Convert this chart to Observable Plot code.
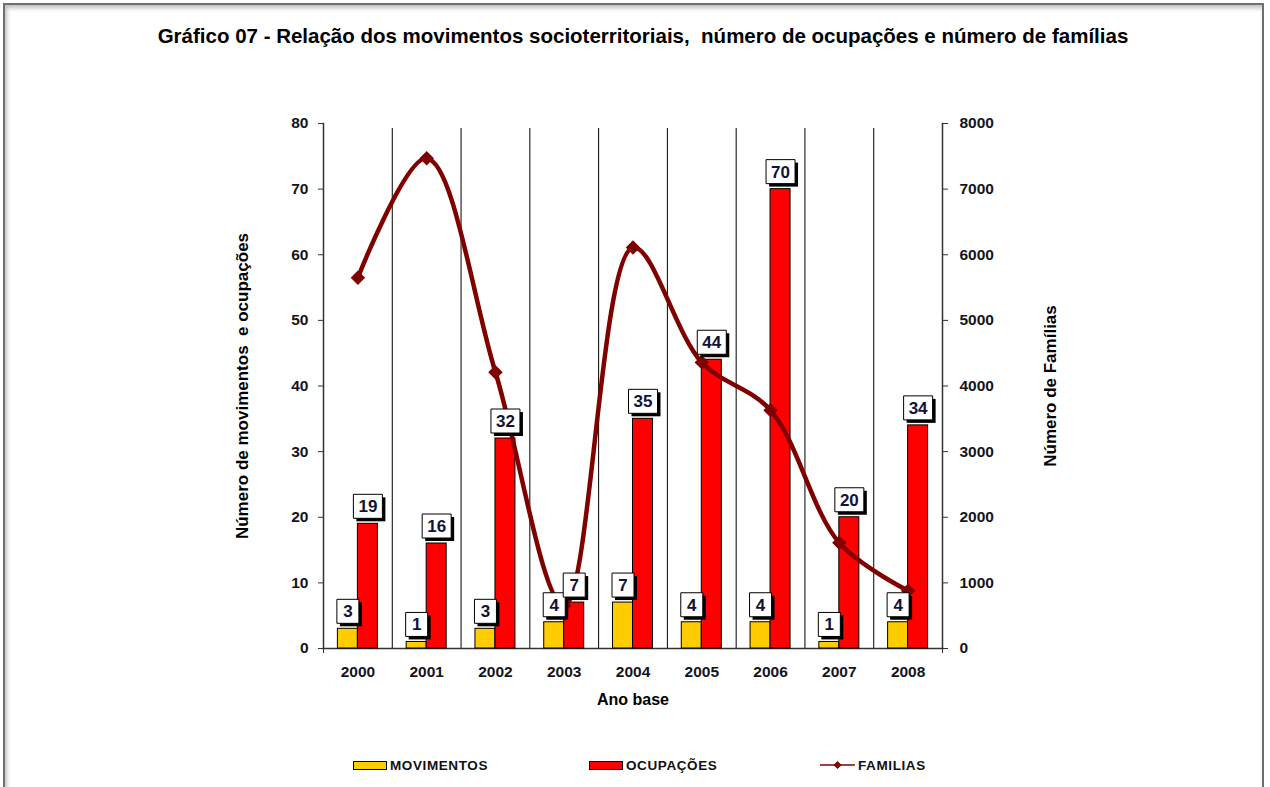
<!DOCTYPE html>
<html>
<head>
<meta charset="utf-8">
<script src="https://cdn.jsdelivr.net/npm/d3@7"></script>
<script src="https://cdn.jsdelivr.net/npm/@observablehq/plot@0.6"></script>
<style>
  html, body { margin: 0; padding: 0; background: #fff; }
  body { width: 1270px; height: 787px; overflow: hidden; position: relative; font-family: "Liberation Sans", Arial, sans-serif; }
  #frame { position: absolute; left: 3px; top: 3px; width: 1261px; height: 820px; border: 2px solid #6f6f6f; box-shadow: inset 2px 3px 4px rgba(0,0,0,0.25); box-sizing: border-box; pointer-events: none; }
  #title { position: absolute; left: 0; width: 1286px; top: 24px; text-align: center; font-weight: bold; font-size: 20.5px; color: #000; }
  #chart { position: absolute; left: 0; top: 0; }
  #legend { position: absolute; top: 757px; left: 0; width: 1270px; height: 20px; font-weight: bold; font-size: 13.5px; color: #111; letter-spacing: 0.6px; }
  .item { position: absolute; top: 0; display: flex; align-items: center; height: 16px; }
  .sw { width: 32px; height: 7px; border: 1px solid #000; margin-right: 3px; }
</style>
</head>
<body>
<div id="chart"></div>
<div id="title">Gráfico 07 - Relação dos movimentos socioterritoriais,&nbsp; número de ocupações e número de famílias</div>
<div id="legend">
  <div class="item" style="left:353px"><div class="sw" style="background:#FFCC00"></div>MOVIMENTOS</div>
  <div class="item" style="left:589px"><div class="sw" style="background:#FF0000"></div>OCUPAÇÕES</div>
  <div class="item" style="left:820px"><svg width="36" height="12" style="margin-right:2px"><line x1="0" y1="6" x2="35" y2="6" stroke="#800000" stroke-width="1.5"/><path d="M17.5,2 L21.5,6 L17.5,10 L13.5,6 Z" fill="#800000"/></svg>FAMILIAS</div>
</div>
<div id="frame"></div>
<script>
const years = ["2000","2001","2002","2003","2004","2005","2006","2007","2008"];
const movimentos = [3, 1, 3, 4, 7, 4, 4, 1, 4];
const ocupacoes = [19, 16, 32, 7, 35, 44, 70, 20, 34];
const familias = [5650, 7470, 4210, 650, 6110, 4360, 3630, 1610, 880];
const leftTicks = [0, 10, 20, 30, 40, 50, 60, 70, 80];

const W = 1270, H = 787, ML = 323, MR = 328, MT = 123, MB = 139;
const bw = (W - ML - MR) / years.length;
const barW = 20;
const FONT = "Liberation Sans, Arial, sans-serif";

const movData = years.map((y, i) => ({year: y, value: movimentos[i]}));
const ocuData = years.map((y, i) => ({year: y, value: ocupacoes[i]}));
const famData = years.map((y, i) => ({year: y, value: familias[i]}));

const box = (w, h) => ({draw(ctx) { ctx.rect(-w / 2, -h / 2, w, h); }});

function labelMarks(data, dxv) {
  const one = data.filter(d => String(d.value).length === 1);
  const two = data.filter(d => String(d.value).length > 1);
  const marks = [];
  for (const [set, w] of [[one, 22], [two, 29]]) {
    marks.push(Plot.dot(set, {x: "year", y: "value", dx: dxv + 3, dy: -17.5 + 3, symbol: box(w, 24), fill: "#000", stroke: "none"}));
    marks.push(Plot.dot(set, {x: "year", y: "value", dx: dxv, dy: -17.5, symbol: box(w, 24), fill: "#fff", stroke: "#000", strokeWidth: 1}));
  }
  marks.push(Plot.text(data, {x: "year", y: "value", dx: dxv, dy: -17, text: d => String(d.value), fontWeight: "bold", fontSize: 17, fill: "#121236", fontFamily: FONT}));
  return marks;
}

const chart = Plot.plot({
  width: W, height: H,
  marginLeft: ML, marginRight: MR, marginTop: MT, marginBottom: MB,
  style: {fontFamily: FONT, fontWeight: "bold", fontSize: "15.5px", color: "#141420", background: "transparent"},
  x: {type: "band", domain: years, padding: 0, round: false, axis: null},
  y: {domain: [0, 80], axis: null},
  marks: [
    Plot.ruleX(years.slice(1), {x: d => d, dx: -bw / 2, y1: 0, y2: 80, insetBottom: -5, stroke: "#000", strokeWidth: 1}),
    Plot.ruleX([years[0]], {x: d => d, dx: -bw / 2, y1: 0, y2: 0, insetBottom: -5, stroke: "#333"}),
    Plot.ruleX([years[years.length - 1]], {x: d => d, dx: bw / 2, y1: 0, y2: 0, insetBottom: -5, stroke: "#333"}),
    Plot.frame({anchor: "left", stroke: "#333", strokeWidth: 1.5}),
    Plot.frame({anchor: "right", stroke: "#333", strokeWidth: 1.5}),
    Plot.frame({anchor: "bottom", stroke: "#333", strokeWidth: 1.5}),
    Plot.axisY({anchor: "left", ticks: leftTicks, tickSize: 5, tickPadding: 10, stroke: "#333", label: null}),
    Plot.axisY({anchor: "right", ticks: leftTicks, tickFormat: d => String(d * 100), tickSize: 5, tickPadding: 12, stroke: "#333", label: null}),
    Plot.axisX({domain: years, anchor: "bottom", tickSize: 0, tickPadding: 17, label: null}),
    Plot.text(["Número de movimentos  e ocupações"], {frameAnchor: "left", textAnchor: "middle", dx: -81, rotate: -90, fontSize: 17, fontWeight: "bold", fill: "#000"}),
    Plot.text(["Número de Famílias"], {frameAnchor: "right", textAnchor: "middle", dx: 108, rotate: -90, fontSize: 17, fontWeight: "bold", fill: "#000"}),
    Plot.text(["Ano base"], {frameAnchor: "bottom", dy: 56, fontSize: 16, fontWeight: "bold", fill: "#000"}),
    Plot.barY(movData, {x: "year", y: "value", fill: "#FFCC00", stroke: "#000", strokeWidth: 1, insetLeft: bw / 2 - barW, insetRight: bw / 2}),
    Plot.barY(ocuData, {x: "year", y: "value", fill: "#FF0000", stroke: "#000", strokeWidth: 1, insetLeft: bw / 2, insetRight: bw / 2 - barW}),
    Plot.line(famData, {x: "year", y: d => d.value / 100, curve: "catmull-rom", stroke: "#800000", strokeWidth: 4.5}),
    Plot.dot(famData, {x: "year", y: d => d.value / 100, symbol: "diamond2", r: 6.5, fill: "#800000", stroke: "none"}),
    ...labelMarks(movData, -barW / 2),
    ...labelMarks(ocuData, barW / 2)
  ]
});
document.getElementById("chart").appendChild(chart);
</script>
</body>
</html>
